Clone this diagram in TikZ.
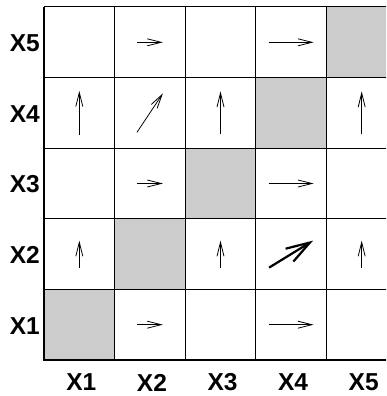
\documentclass[tikz,border=0pt]{standalone}
\usepackage{fontspec}
\setmainfont{Liberation Sans}
\usetikzlibrary{arrows.meta}
\newcommand\cellvec[5][vec]{%
  \draw[#1] ({44+(#2-0.5)*70.6-(#4)/2},{360-(#3-0.5)*70.6-(#5)/2}) -- ++(#4,#5);}
\begin{document}
\begin{tikzpicture}[x=1pt,y=-1pt,
  lab/.style={font=\fontsize{24.5}{25}\selectfont\bfseries, inner sep=0pt},
  vec/.style={line width=0.8pt,-{Straight Barb[length=14pt,width=7pt]}},
  vecbold/.style={line width=2.2pt,-{Straight Barb[length=24pt,width=15pt]}},
  cellgray/.style={fill=black!20},
  gridline/.style={line width=1pt},
  axisline/.style={line width=1.6pt}]
\useasboundingbox (0,0) rectangle (386,396);
\begin{scope}
\clip (0,0) rectangle (386,396);
\foreach \i in {1,...,5}
  \fill[cellgray] ({44+(\i-1)*70.6},{360-\i*70.6}) rectangle +(70.6,70.6);
\foreach \k in {1,...,5}
  \draw[gridline] ({44+\k*70.6},7) -- ({44+\k*70.6},360);
\foreach \k in {1,...,4}
  \draw[gridline] (44,{7+\k*70.6}) -- (397,{7+\k*70.6});
\draw[gridline] (44,7) -- (397,7);
\draw[axisline] (44,7) -- (44,360) -- (397,360);
% arrows
\cellvec{2}{5}{26}{0}
\cellvec{4}{5}{45}{0}
\cellvec{1}{4}{0}{-44}
\cellvec{2}{4}{26}{-39}
\cellvec{3}{4}{0}{-43}
\cellvec{5}{4}{0}{-43}
\cellvec{2}{3}{26}{0}
\cellvec{4}{3}{45}{0}
\cellvec{1}{2}{0}{-27}
\cellvec{3}{2}{0}{-27}
\cellvec[vecbold]{4}{2}{44}{-27}
\cellvec{5}{2}{0}{-27}
\cellvec{2}{1}{26}{0}
\cellvec{4}{1}{45}{0}
\end{scope}
\foreach \i in {1,...,5} {
  \node[lab, anchor=east] (y\i) at (40,{360-(\i-0.5)*70.6+1}) {X\i};
  \node[lab] (x\i) at ({44+(\i-0.5)*70.6+2},382.5) {X\i};
}
\end{tikzpicture}
\end{document}
